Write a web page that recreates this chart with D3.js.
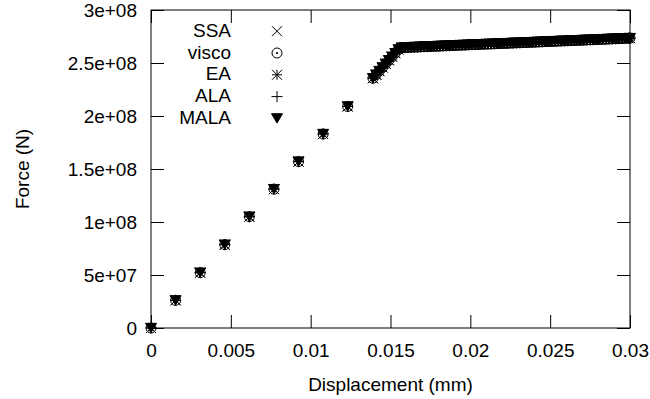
<!DOCTYPE html>
<html>
<head>
<meta charset="utf-8">
<script src="https://cdn.jsdelivr.net/npm/d3@7"></script>
<style>
    body { margin: 0; background: #ffffff; }
    svg { display: block; font-family: 'Liberation Sans', Arial, sans-serif; }
</style>
</head>
<body>
<div id="chart"></div>
<script>
// series names, in legend order
const series_names = ['SSA', 'visco', 'EA', 'ALA', 'MALA'];

// displacement (mm), all five methods coincide
const displacement = [
    0, 0.00154, 0.00308, 0.00462, 0.00616, 0.0077, 0.00924, 0.01078, 0.01232,
    0.0139, 0.0141, 0.0143, 0.0145, 0.0147, 0.0149, 0.0151, 0.0153, 0.0155,
    0.0157, 0.0159, 0.0161, 0.0163, 0.0165, 0.0167, 0.0169, 0.0171, 0.0173, 0.0175,
    0.0177, 0.0179, 0.0181, 0.0183, 0.0185, 0.0187, 0.0189, 0.0191, 0.0193, 0.0195,
    0.0197, 0.0199, 0.0201, 0.0203, 0.0205, 0.0207, 0.0209, 0.0211, 0.0213, 0.0215,
    0.0217, 0.0219, 0.0221, 0.0223, 0.0225, 0.0227, 0.0229, 0.0231, 0.0233, 0.0235,
    0.0237, 0.0239, 0.0241, 0.0243, 0.0245, 0.0247, 0.0249, 0.0251, 0.0253, 0.0255,
    0.0257, 0.0259, 0.0261, 0.0263, 0.0265, 0.0267, 0.0269, 0.0271, 0.0273, 0.0275,
    0.0277, 0.0279, 0.0281, 0.0283, 0.0285, 0.0287, 0.0289, 0.0291, 0.0293, 0.0295,
    0.0297, 0.0299, 0.03
];

// force (N)
const force = [
    0, 2.61e7, 5.22e7, 7.86e7, 1.05e8, 1.31e8, 1.57e8, 1.83e8, 2.09e8,
    2.356e8, 2.39e8, 2.424e8, 2.458e8, 2.492e8, 2.526e8, 2.559e8, 2.593e8, 2.628e8,
    2.645e8, 2.646e8, 2.648e8, 2.649e8, 2.65e8, 2.651e8, 2.653e8, 2.654e8, 2.655e8, 2.656e8,
    2.658e8, 2.659e8, 2.66e8, 2.662e8, 2.663e8, 2.664e8, 2.665e8, 2.667e8, 2.668e8, 2.669e8,
    2.67e8, 2.672e8, 2.673e8, 2.674e8, 2.675e8, 2.677e8, 2.678e8, 2.679e8, 2.68e8, 2.681e8,
    2.683e8, 2.684e8, 2.685e8, 2.686e8, 2.688e8, 2.689e8, 2.69e8, 2.691e8, 2.693e8, 2.694e8,
    2.695e8, 2.696e8, 2.698e8, 2.699e8, 2.7e8, 2.702e8, 2.703e8, 2.704e8, 2.705e8, 2.707e8,
    2.708e8, 2.709e8, 2.71e8, 2.712e8, 2.713e8, 2.714e8, 2.715e8, 2.717e8, 2.718e8, 2.719e8,
    2.72e8, 2.722e8, 2.723e8, 2.724e8, 2.725e8, 2.727e8, 2.728e8, 2.729e8, 2.73e8, 2.732e8,
    2.733e8, 2.734e8, 2.735e8
];

const x_ticks = [0, 0.005, 0.01, 0.015, 0.02, 0.025, 0.03];
const x_tick_labels = ['0', '0.005', '0.01', '0.015', '0.02', '0.025', '0.03'];
const y_ticks = [0, 5e7, 1e8, 1.5e8, 2e8, 2.5e8, 3e8];
const y_tick_labels = ['0', '5e+07', '1e+08', '1.5e+08', '2e+08', '2.5e+08', '3e+08'];

(function() {
    const width = 650,
        height = 399,
        margins = {top: 10, right: 20, bottom: 71, left: 151},
        font_size = 19,
        tick_len = 13;

    const plot_w = width - margins.left - margins.right,
        plot_h = height - margins.top - margins.bottom;

    // gnuplot-like point types
    const sym_cross = {draw: function(c, r) {
        c.moveTo(-r, -r); c.lineTo(r, r);
        c.moveTo(-r, r); c.lineTo(r, -r);
    }};
    const sym_circle_dot = {draw: function(c, r) {
        c.moveTo(r, 0); c.arc(0, 0, r, 0, 2 * Math.PI);
        c.moveTo(0.7, 0); c.arc(0, 0, 0.7, 0, 2 * Math.PI);
    }};
    const sym_star = {draw: function(c, r) {
        c.moveTo(-r, -r); c.lineTo(r, r);
        c.moveTo(-r, r); c.lineTo(r, -r);
        c.moveTo(-r, 0); c.lineTo(r, 0);
        c.moveTo(0, -r); c.lineTo(0, r);
    }};
    const sym_plus = {draw: function(c, r) {
        c.moveTo(-r, 0); c.lineTo(r, 0);
        c.moveTo(0, -r); c.lineTo(0, r);
    }};
    const sym_tri_down = {draw: function(c, r) {
        c.moveTo(-r, -r * 0.85);
        c.lineTo(r, -r * 0.85);
        c.lineTo(0, r * 0.85);
        c.closePath();
    }};

    const symbol_for = {
        SSA: {type: sym_cross, size: 5, fill: 'none'},
        visco: {type: sym_circle_dot, size: 5, fill: 'none'},
        EA: {type: sym_star, size: 5, fill: 'none'},
        ALA: {type: sym_plus, size: 5.5, fill: 'none'},
        MALA: {type: sym_tri_down, size: 5.5, fill: '#000000'}
    };

    const x = d3.scaleLinear().domain([0, 0.03]).range([0, plot_w]);
    const y = d3.scaleLinear().domain([0, 3e8]).range([plot_h, 0]);

    const points = displacement.map((d, i) => ({x: d, y: force[i]}));

    const svg = d3.select('#chart').append('svg')
        .attr('width', width)
        .attr('height', height)
        .attr('font-size', font_size);

    const g = svg.append('g')
        .attr('transform', 'translate(' + margins.left + ',' + margins.top + ')');

    // axes with inward ticks
    let x_axis = g.append('g')
        .attr('transform', 'translate(0,' + plot_h + ')')
        .call(d3.axisBottom(x).tickValues(x_ticks)
            .tickFormat((d, i) => x_tick_labels[i])
            .tickSizeInner(-tick_len).tickSizeOuter(0).tickPadding(15.5));

    let y_axis = g.append('g')
        .call(d3.axisLeft(y).tickValues(y_ticks)
            .tickFormat((d, i) => y_tick_labels[i])
            .tickSizeInner(-tick_len).tickSizeOuter(0).tickPadding(14));

    g.append('g')
        .call(d3.axisTop(x).tickValues(x_ticks).tickFormat('')
            .tickSizeInner(-tick_len).tickSizeOuter(0));

    g.append('g')
        .attr('transform', 'translate(' + plot_w + ',0)')
        .call(d3.axisRight(y).tickValues(y_ticks).tickFormat('')
            .tickSizeInner(-tick_len).tickSizeOuter(0));

    g.selectAll('.domain').remove();
    g.selectAll('.tick line').attr('stroke', '#000000');
    g.selectAll('.tick text')
        .attr('fill', '#000000')
        .attr('font-size', font_size)
        .attr('font-family', "'Liberation Sans', Arial, sans-serif");
    y_axis.selectAll('.tick text').attr('dy', '0.32em');

    g.append('rect')
        .attr('width', plot_w)
        .attr('height', plot_h)
        .attr('fill', 'none')
        .attr('stroke', '#000000')
        .attr('stroke-width', 1);

    // data marks
    series_names.forEach(function(name) {
        let s = symbol_for[name];
        let sym = d3.symbol().type(s.type).size(s.size);
        g.append('g')
            .selectAll('path')
            .data(points)
            .enter().append('path')
            .attr('transform', (d) => 'translate(' + x(d.x) + ',' + y(d.y) + ')')
            .attr('d', sym)
            .attr('fill', s.fill)
            .attr('stroke', '#000000')
            .attr('stroke-width', 1);
    });

    // legend
    let legend = svg.append('g');
    series_names.forEach(function(name, i) {
        let s = symbol_for[name];
        let base = 36.7 + i * 21.8;
        legend.append('text')
            .attr('x', 231)
            .attr('y', base)
            .attr('text-anchor', 'end')
            .attr('fill', '#000000')
            .text(name);
        legend.append('path')
            .attr('transform', 'translate(277,' + (base - 5.5) + ')')
            .attr('d', d3.symbol().type(s.type).size(s.size)())
            .attr('fill', s.fill)
            .attr('stroke', '#000000')
            .attr('stroke-width', 1);
    });

    // axis titles
    svg.append('text')
        .attr('x', margins.left + plot_w / 2)
        .attr('y', 390.5)
        .attr('text-anchor', 'middle')
        .attr('fill', '#000000')
        .text('Displacement (mm)');

    svg.append('text')
        .attr('transform', 'translate(29,' + (margins.top + plot_h / 2) + ') rotate(-90)')
        .attr('text-anchor', 'middle')
        .attr('fill', '#000000')
        .text('Force (N)');
}());
</script>
</body>
</html>
